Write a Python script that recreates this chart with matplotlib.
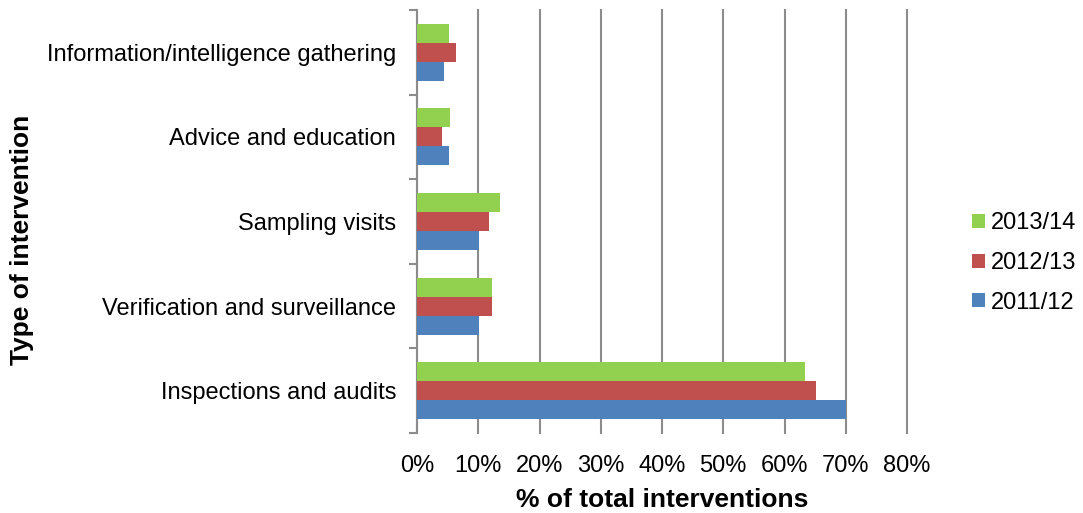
import matplotlib.pyplot as plt
import numpy as np

plt.rcParams["font.family"] = ["Liberation Sans", "DejaVu Sans"]

categories = [
    "Inspections and audits",
    "Verification and surveillance",
    "Sampling visits",
    "Advice and education",
    "Information/intelligence gathering",
]
years = ["2011/12", "2012/13", "2013/14"]
vals_2011 = [70.0, 10.1, 10.1, 5.3, 4.4]
vals_2012 = [65.2, 12.3, 11.8, 4.1, 6.4]
vals_2013 = [63.4, 12.3, 13.5, 5.4, 5.2]
colors = ["#4F81BD", "#C0504D", "#92D050"]

fig = plt.figure(figsize=(10.83, 5.13), dpi=100)
ax = fig.add_axes([417 / 1083, 80 / 513, 490 / 1083, 423 / 513])

y = np.arange(len(categories))
h = 0.224
for i, (vals, c, lab) in enumerate(zip([vals_2011, vals_2012, vals_2013], colors, years)):
    ax.barh(y + (i - 1) * h, vals, height=h, color=c, label=lab, zorder=3)

ax.set_xlim(0, 80)
ax.set_ylim(-0.5, len(categories) - 0.5)
ax.set_xticks(np.arange(0, 81, 10))
ax.set_xticklabels([f"{v}%" for v in range(0, 81, 10)], fontsize=17)
ax.tick_params(axis="x", length=0, pad=16)
ax.grid(axis="x", color="#8c8c8c", linewidth=1.5, zorder=0)
for gl in ax.get_xgridlines():
    gl.set_clip_on(False)

ax.set_yticks(y)
ax.set_yticklabels(categories, fontsize=17)
ax.set_yticks(np.arange(-0.5, len(categories)), minor=True)
ax.tick_params(axis="y", which="major", length=0, pad=15)
ax.tick_params(axis="y", which="minor", length=6, width=1.5, color="#8c8c8c")

for s in ["top", "right", "bottom"]:
    ax.spines[s].set_visible(False)
ax.spines["left"].set_color("#8c8c8c")
ax.spines["left"].set_linewidth(1.5)

ax.set_xlabel("% of total interventions", fontsize=19, fontweight="bold", labelpad=8)
fig.text(22 / 1083, 1 - 240 / 513, "Type of intervention", rotation=90, fontsize=19,
         fontweight="bold", ha="center", va="center")

handles, labels = ax.get_legend_handles_labels()
fig.legend(handles[::-1], labels[::-1], loc="center left",
           bbox_to_anchor=(963 / 1083, 1 - 263 / 513), frameon=False, fontsize=17,
           handlelength=0.55, handleheight=0.55, handletextpad=0.25, labelspacing=0.75,
           borderaxespad=0)

fig.savefig("out.png", dpi=100)
